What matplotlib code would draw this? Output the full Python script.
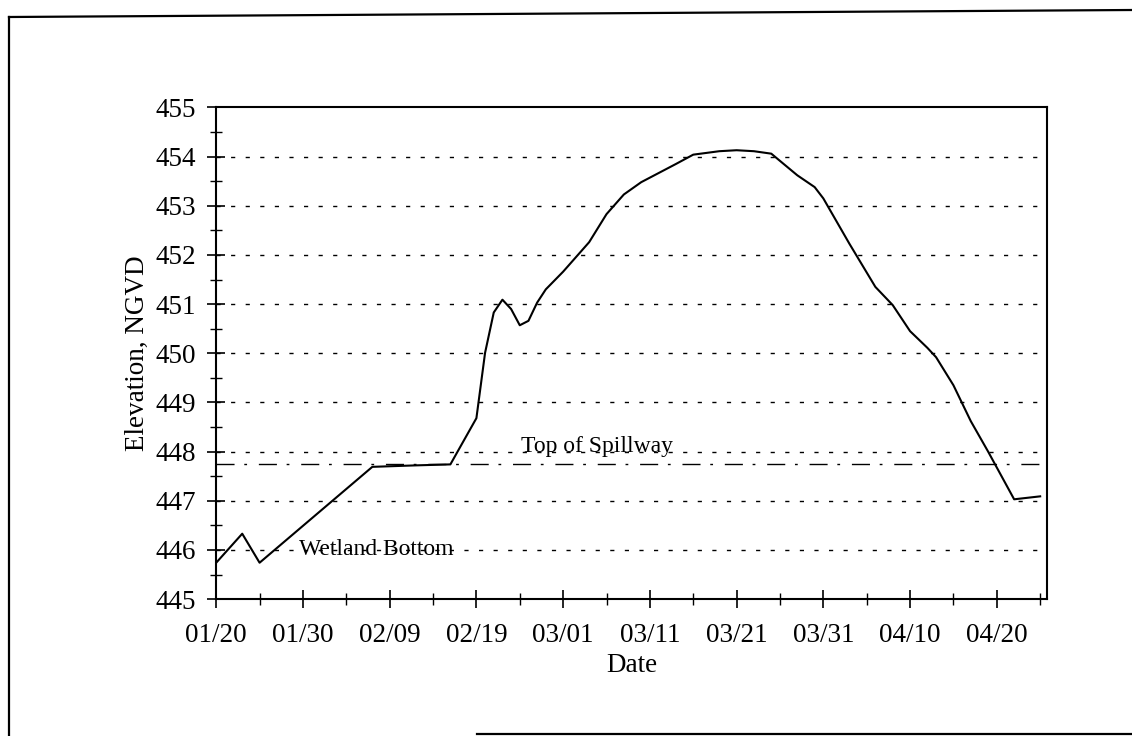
import datetime as dt
import matplotlib
matplotlib.use("Agg")
import matplotlib.pyplot as plt
import matplotlib.dates as mdates
from matplotlib.lines import Line2D

# data (year is a non-leap one)
dates = ["01/20", "01/23", "01/25", "02/07", "02/12", "02/16", "02/19", "02/20",
         "02/21", "02/22", "02/23", "02/24", "02/25", "02/26", "02/27", "03/01",
         "03/04", "03/06", "03/08", "03/10", "03/14", "03/16", "03/19", "03/21",
         "03/23", "03/25", "03/28", "03/30", "03/31", "04/03", "04/06", "04/08",
         "04/10", "04/12", "04/13", "04/15", "04/17", "04/19", "04/22", "04/25"]
elev = [445.74, 446.33, 445.74, 447.69, 447.72, 447.74, 448.68, 450.01,
        450.83, 451.09, 450.90, 450.57, 450.66, 451.03, 451.30, 451.66,
        452.26, 452.83, 453.23, 453.48, 453.85, 454.04, 454.11, 454.13,
        454.11, 454.06, 453.62, 453.38, 453.15, 452.23, 451.35, 450.98,
        450.45, 450.11, 449.92, 449.35, 448.62, 448.00, 447.03, 447.09]
spillway = 447.75
year = 1997

x = [dt.datetime.strptime(f"{year}/{d}", "%Y/%m/%d") for d in dates]
start = dt.datetime(year, 1, 20)

plt.rcParams['font.family'] = ['Liberation Serif', 'DejaVu Serif']

fig = plt.figure(figsize=(11.32, 7.36), dpi=100)
ax = fig.add_axes([0.191, 0.186, 0.734, 0.668])

# dotted grid at whole feet
for v in range(446, 455):
    ax.axhline(v, color="black", lw=1.0, dashes=(3, 7.5), zorder=1)

# top of spillway, dash-dot
ax.axhline(spillway, color="black", lw=1.0, dashes=(13, 7, 2, 8.5), zorder=2)

ax.plot(x, elev, color="black", lw=1.5, zorder=3)

ax.text(dt.datetime(year, 2, 24, 3), 448.1, "Top of Spillway", fontsize=17,
        va="center", ha="left", zorder=2)
ax.text(dt.datetime(year, 1, 29, 12), 446.0, "Wetland Bottom", fontsize=17,
        va="center", ha="left", zorder=2)

ax.set_ylim(445, 455)
ax.set_xlim(start, start + dt.timedelta(days=95.8))
ax.set_yticks(range(445, 456))
ax.set_yticks([v + 0.5 for v in range(445, 455)], minor=True)
ax.set_xticks([start + dt.timedelta(days=10 * i) for i in range(10)])
ax.set_xticks([start + dt.timedelta(days=5 + 10 * i) for i in range(10)], minor=True)
ax.xaxis.set_major_formatter(mdates.DateFormatter("%m/%d"))

ax.tick_params(which="major", direction="inout", length=13, width=1.2,
               labelsize=19.5, color="black")
ax.tick_params(which="minor", direction="inout", length=8, width=1.0)
ax.tick_params(axis="x", which="major", pad=11)
ax.tick_params(axis="y", which="major", pad=8)

ax.set_xlabel("Date", fontsize=19.5, labelpad=3)
ax.set_ylabel("Elevation, NGVD", fontsize=19.5, labelpad=4)

for s in ax.spines.values():
    s.set_linewidth(1.5)

# border of the scanned page
W, H = 1132, 736
def fl(x0, y0, x1, y1):
    fig.add_artist(Line2D([x0 / W, x1 / W], [1 - y0 / H, 1 - y1 / H],
                          color="black", lw=1.6, transform=fig.transFigure))

fl(9, 17, 1132, 10)
fl(9, 17, 9, 736)
fl(477, 734, 1132, 734)

fig.savefig("out.png", dpi=100)
